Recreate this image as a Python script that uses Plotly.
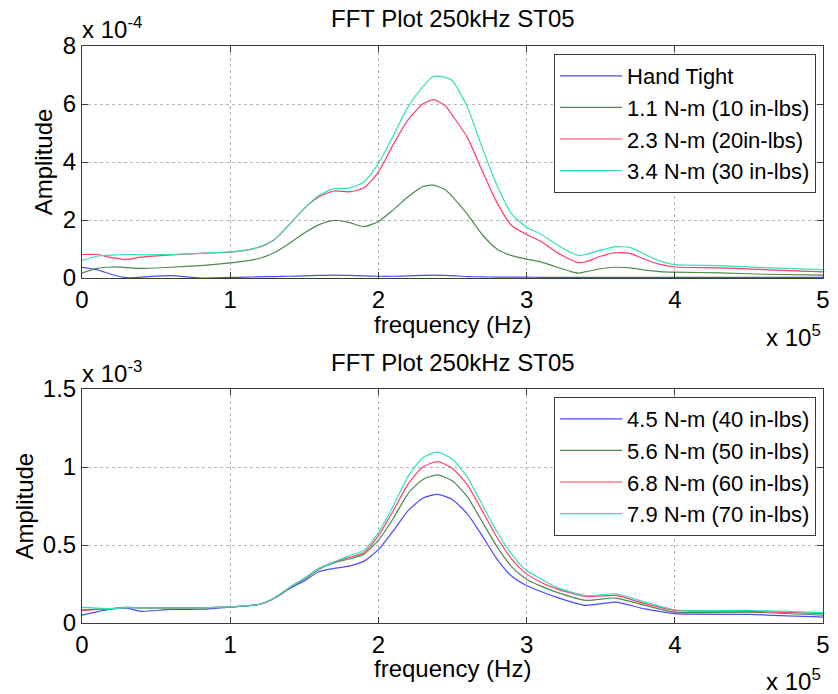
import plotly.graph_objects as go
from plotly.subplots import make_subplots

# ---------------- data ----------------
# frequency in units of 1e5 Hz, amplitude top in units of 1e-4, bottom in 1e-3
freq_top = [0, 0.1, 0.2, 0.3, 0.4, 0.6, 0.8, 1.0, 1.1, 1.2, 1.3, 1.4, 1.5, 1.6, 1.7,
            1.8, 1.9, 2.0, 2.1, 2.2, 2.3, 2.37, 2.45, 2.5, 2.6, 2.7, 2.8, 2.9, 3.0,
            3.1, 3.2, 3.3, 3.35, 3.4, 3.5, 3.6, 3.7, 3.8, 3.9, 4.0, 4.3, 4.6, 5.0]

hand_tight = [0.37, 0.29, 0.12, 0.01, 0.03, 0.08, 0.0, 0.02, 0.03, 0.04, 0.05, 0.06, 0.07, 0.09, 0.1,
              0.09, 0.07, 0.06, 0.06, 0.07, 0.09, 0.1, 0.09, 0.08, 0.05, 0.04, 0.03, 0.03, 0.03,
              0.02, 0.02, 0.02, 0.02, 0.02, 0.02, 0.02, 0.02, 0.02, 0.02, 0.02, 0.02, 0.02, 0.02]

nm_1_1 = [0.17, 0.33, 0.38, 0.36, 0.33, 0.37, 0.43, 0.52, 0.58, 0.68, 0.88, 1.2, 1.55, 1.84, 1.99,
          1.92, 1.77, 1.95, 2.35, 2.8, 3.15, 3.2, 3.05, 2.8, 2.2, 1.5, 1.0, 0.77, 0.65,
          0.55, 0.38, 0.22, 0.17, 0.22, 0.32, 0.37, 0.35, 0.27, 0.22, 0.2, 0.18, 0.13, 0.1]

nm_2_3 = [0.81, 0.81, 0.7, 0.64, 0.72, 0.8, 0.85, 0.89, 0.95, 1.07, 1.33, 1.85, 2.4, 2.8, 3.0,
          2.97, 3.1, 3.65, 4.6, 5.45, 6.0, 6.15, 5.95, 5.6, 4.85, 3.7, 2.6, 1.8, 1.5,
          1.25, 0.9, 0.62, 0.53, 0.56, 0.75, 0.87, 0.84, 0.64, 0.47, 0.38, 0.35, 0.29, 0.21]

nm_3_4 = [0.61, 0.75, 0.79, 0.81, 0.8, 0.81, 0.85, 0.9, 0.96, 1.08, 1.33, 1.85, 2.4, 2.85, 3.08,
          3.1, 3.3, 3.95, 4.9, 5.9, 6.6, 6.95, 6.92, 6.8, 5.9, 4.5, 3.2, 2.2, 1.75,
          1.5, 1.16, 0.87, 0.78, 0.81, 0.96, 1.08, 1.05, 0.81, 0.58, 0.46, 0.43, 0.36, 0.29]

freq_bot = [0, 0.2, 0.3, 0.4, 0.6, 0.8, 1.0, 1.2, 1.3, 1.4, 1.5, 1.6, 1.7, 1.8, 1.9, 2.0,
            2.1, 2.2, 2.3, 2.4, 2.5, 2.6, 2.7, 2.8, 2.9, 3.0, 3.1, 3.2, 3.4, 3.6, 3.8,
            4.0, 4.5, 5.0]

nm_4_5 = [0.05, 0.09, 0.095, 0.075, 0.087, 0.088, 0.102, 0.12, 0.16, 0.22, 0.27, 0.33, 0.35, 0.365, 0.395, 0.47,
          0.59, 0.72, 0.8, 0.825, 0.79, 0.70, 0.56, 0.41, 0.3, 0.24, 0.2, 0.166, 0.113, 0.134, 0.09,
          0.06, 0.055, 0.038]

nm_5_6 = [0.085, 0.092, 0.1, 0.097, 0.097, 0.097, 0.103, 0.12, 0.16, 0.225, 0.28, 0.345, 0.385, 0.41, 0.44, 0.53,
          0.67, 0.83, 0.92, 0.95, 0.91, 0.81, 0.65, 0.49, 0.36, 0.28, 0.235, 0.198, 0.145, 0.16, 0.113,
          0.07, 0.07, 0.05]

nm_6_8 = [0.081, 0.092, 0.1, 0.097, 0.097, 0.097, 0.103, 0.12, 0.16, 0.228, 0.285, 0.35, 0.39, 0.42, 0.45, 0.56,
          0.72, 0.89, 1.0, 1.035, 0.99, 0.885, 0.72, 0.55, 0.41, 0.315, 0.26, 0.22, 0.17, 0.177, 0.124,
          0.081, 0.075, 0.06]

nm_7_9 = [0.10, 0.092, 0.098, 0.097, 0.097, 0.097, 0.103, 0.12, 0.16, 0.228, 0.285, 0.35, 0.39, 0.43, 0.465, 0.58,
          0.75, 0.94, 1.06, 1.095, 1.05, 0.935, 0.76, 0.585, 0.44, 0.336, 0.28, 0.23, 0.175, 0.187, 0.134,
          0.085, 0.081, 0.066]

top_names = ["Hand Tight", "1.1 N-m (10 in-lbs)", "2.3 N-m (20in-lbs)", "3.4 N-m (30 in-lbs)"]
bot_names = ["4.5 N-m (40 in-lbs)", "5.6 N-m (50 in-lbs)", "6.8 N-m (60 in-lbs)", "7.9 N-m (70 in-lbs)"]
x_ticks = [0, 1, 2, 3, 4, 5]
top_yticks = [0, 2, 4, 6, 8]
bot_yticks = [0, 0.5, 1, 1.5]
bot_yticktext = ["0", "0.5", "1", "1.5"]
title_text = "FFT Plot 250kHz ST05"

# ---------------- style ----------------
colors = ["#4a4aff", "#4f8a4f", "#ff3d66", "#33e0bd"]
FONT = "Liberation Sans, Arial, Helvetica, sans-serif"
FS = 24
LFS = 22

fig = make_subplots(rows=2, cols=1, vertical_spacing=0.19)

top_series = [hand_tight, nm_1_1, nm_2_3, nm_3_4]
for name, ys, c in zip(top_names, top_series, colors):
    fig.add_trace(go.Scatter(x=freq_top, y=ys, name=name, mode="lines",
                             line=dict(color=c, width=1.2, shape="spline", smoothing=0.6),
                             legend="legend"), row=1, col=1)

bot_series = [nm_4_5, nm_5_6, nm_6_8, nm_7_9]
for name, ys, c in zip(bot_names, bot_series, colors):
    fig.add_trace(go.Scatter(x=freq_bot, y=ys, name=name, mode="lines",
                             line=dict(color=c, width=1.2, shape="spline", smoothing=0.6),
                             legend="legend2"), row=2, col=1)

axis_common = dict(showline=True, linecolor="#3a3a3a", linewidth=1, mirror="ticks",
                   ticks="inside", ticklen=6, tickcolor="#3a3a3a",
                   showgrid=True, gridcolor="#b4b4b4", griddash="dot", gridwidth=1,
                   zeroline=False, tickfont=dict(family=FONT, size=FS, color="black"))

fig.update_xaxes(range=[0, 5], tickvals=x_ticks, **axis_common)
fig.update_yaxes(range=[0, 8], tickvals=top_yticks, row=1, col=1, **axis_common)
fig.update_yaxes(range=[0, 1.5], tickvals=bot_yticks, ticktext=bot_yticktext, row=2, col=1, **axis_common)

L, R, T, B = 82, 8, 46, 71
W, H = 838, 694
PW, PH = W - L - R, H - T - B


def px(x):
    return (x - L) / PW


def py(y):
    return (H - B - y) / PH


fig.update_layout(
    xaxis=dict(domain=[0, 1]),
    yaxis=dict(domain=[py(278), 1]),
    yaxis2=dict(domain=[0, py(389)]),
)

legend_common = dict(font=dict(family=FONT, size=LFS, color="black"), bgcolor="white",
                     bordercolor="#3a3a3a", borderwidth=1, xanchor="right", yanchor="top",
                     itemwidth=62, tracegroupgap=0)
fig.update_layout(
    legend=dict(x=px(823), y=py(54), **legend_common),
    legend2=dict(x=px(823), y=py(397), **legend_common),
)

ann = []
tf = dict(family=FONT, size=FS, color="black")
for yc in (19, 362):
    ann.append(dict(text=title_text, x=0.5, y=py(yc), xref="paper", yref="paper",
                    xanchor="center", yanchor="middle", showarrow=False, font=tf))
for yc in (324, 668):
    ann.append(dict(text="frequency (Hz)", x=0.5, y=py(yc), xref="paper", yref="paper",
                    xanchor="center", yanchor="middle", showarrow=False, font=tf))
for xc, yc in ((43, 162), (24, 506)):
    ann.append(dict(text="Amplitude", x=px(xc), y=py(yc), xref="paper", yref="paper",
                    xanchor="center", yanchor="middle", textangle=-90, showarrow=False, font=tf))
ann.append(dict(text="x 10<sup>-4</sup>", x=px(80), y=py(28), xref="paper", yref="paper",
                xanchor="left", yanchor="middle", showarrow=False, font=tf))
ann.append(dict(text="x 10<sup>-3</sup>", x=px(80), y=py(372), xref="paper", yref="paper",
                xanchor="left", yanchor="middle", showarrow=False, font=tf))
ann.append(dict(text="x 10<sup>5</sup>", x=px(830), y=py(336), xref="paper", yref="paper",
                xanchor="right", yanchor="middle", showarrow=False, font=tf))
ann.append(dict(text="x 10<sup>5</sup>", x=px(830), y=py(680), xref="paper", yref="paper",
                xanchor="right", yanchor="middle", showarrow=False, font=tf))

fig.update_layout(
    width=W, height=H, margin=dict(l=L, r=R, t=T, b=B),
    paper_bgcolor="white", plot_bgcolor="white",
    font=dict(family=FONT, size=FS, color="black"),
    annotations=ann,
)

fig.write_html("out.html")
